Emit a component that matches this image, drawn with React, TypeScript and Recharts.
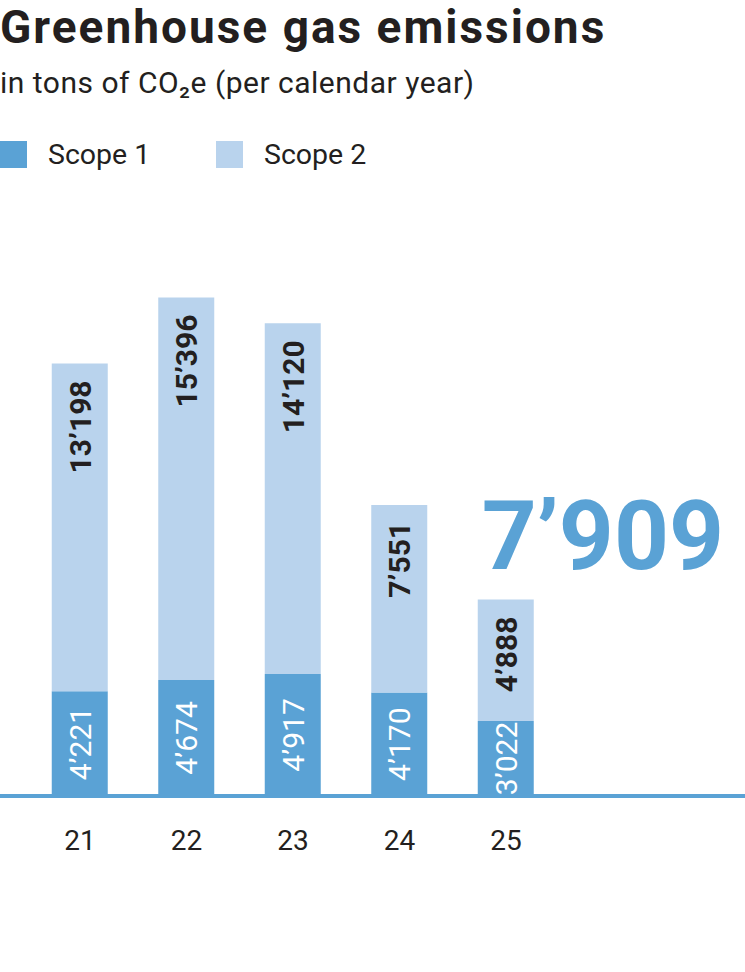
import React from "react";
import { BarChart, Bar, XAxis, YAxis, LabelList } from "recharts";

const years = ["21", "22", "23", "24", "25"];
const scope1 = [4221, 4674, 4917, 4170, 3022];
const scope2 = [13198, 15396, 14120, 7551, 4888];
const latestTotal = 7909;

const BLUE = "#5aa2d5";
const LIGHT = "#b9d3ed";
const INK = "#231f20";

const data = years.map((year, i) => ({ year, scope1: scope1[i], scope2: scope2[i] }));

const fmt = (v: number) => {
  const th = Math.floor(v / 1000);
  const rest = String(v % 1000).padStart(3, "0");
  return th > 0 ? `${th}\u2019${rest}` : String(v);
};

// white label centred in the dark segment
const Scope1Label = (props: any) => {
  const { x, y, width, height, value } = props;
  const cx = x + width / 2;
  const cy = y + height / 2;
  return (
    <text
      x={cx}
      y={cy}
      dy="0.36em"
      textAnchor="middle"
      fill="#fff"
      fontSize={30}
      transform={`rotate(-90 ${cx} ${cy})`}
    >
      {fmt(value)}
    </text>
  );
};

// dark label hanging from the top of the light segment
const Scope2Label = (props: any) => {
  const { x, y, width, value, index } = props;
  const cx = x + width / 2;
  const ty = y + 17;
  return (
    <g>
      <text
        x={cx}
        y={ty}
        dy="0.36em"
        textAnchor="end"
        fill={INK}
        fontSize={30}
        fontWeight={700}
        transform={`rotate(-90 ${cx} ${ty})`}
      >
        {fmt(value)}
      </text>
      {index === years.length - 1 && (
        <text x={x + 4} y={y - 31} fill={BLUE} fontSize={96} fontWeight={700}>
          {fmt(latestTotal)}
        </text>
      )}
    </g>
  );
};

export default function App() {
  return (
    <div
      style={{
        position: "absolute",
        left: 0,
        top: 0,
        width: 745,
        height: 972,
        fontFamily: "Roboto, 'Noto Sans', sans-serif",
        color: INK,
        background: "#fff",
      }}
    >
      <div style={{ position: "absolute", left: 0, top: 4, fontSize: 46, lineHeight: "46px", fontWeight: 700, letterSpacing: 2, whiteSpace: "nowrap" }}>
        Greenhouse gas emissions
      </div>
      <div style={{ position: "absolute", left: 0, top: 68, fontSize: 30, lineHeight: "30px", letterSpacing: 0.5, whiteSpace: "nowrap" }}>
        in tons of CO₂e (per calendar year)
      </div>
      <div style={{ position: "absolute", left: 0, top: 138, display: "flex", alignItems: "center", fontSize: 28.5 }}>
        <span style={{ width: 27, height: 27, background: BLUE, display: "inline-block" }} />
        <span style={{ marginLeft: 21, width: 168 }}>Scope 1</span>
        <span style={{ width: 27, height: 27, background: LIGHT, display: "inline-block" }} />
        <span style={{ marginLeft: 21 }}>Scope 2</span>
      </div>
      <BarChart width={745} height={972} data={data} margin={{ top: 200, right: 0, left: 0, bottom: 116 }}>
        <YAxis hide domain={[0, 24000]} />
        <XAxis
          dataKey="year"
          height={60}
          padding={{ left: 26.75, right: 185.75 }}
          axisLine={{ stroke: BLUE, strokeWidth: 4 }}
          tickLine={false}
          tickSize={0}
          tickMargin={34}
          tick={{ fill: INK, fontSize: 28 }}
        />
        <Bar dataKey="scope1" stackId="a" fill={BLUE} barSize={56} isAnimationActive={false}>
          <LabelList dataKey="scope1" content={Scope1Label} />
        </Bar>
        <Bar dataKey="scope2" stackId="a" fill={LIGHT} barSize={56} isAnimationActive={false}>
          <LabelList dataKey="scope2" content={Scope2Label} />
        </Bar>
      </BarChart>
    </div>
  );
}
